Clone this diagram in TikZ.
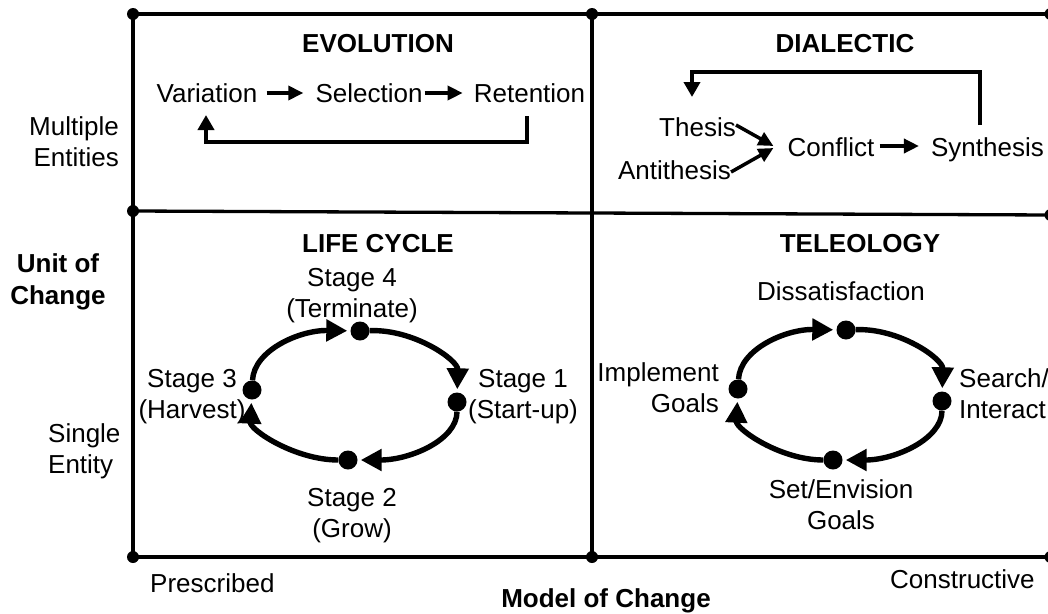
\documentclass[tikz,border=0pt]{standalone}
\usepackage{fontspec}
\setmainfont{Liberation Sans}
\usetikzlibrary{arrows.meta}
% stacked lines with the baseline of the first line as the box baseline
\newcommand\stacklines[3]{\begin{tabular}[t]{@{}#1@{}}#2\\#3\end{tabular}}
\begin{document}
\begin{tikzpicture}[x=1pt,y=-1pt,
  every node/.style={inner sep=0pt, font=\fontsize{26}{31}\selectfont},
  title/.style={font=\fontsize{26}{31}\selectfont\bfseries},
  grid/.style={line width=3.3pt},
  gdot/.style={circle, fill, minimum size=12pt, inner sep=0pt},
  cdot/.style={circle, fill, minimum size=19pt, inner sep=0pt},
  cyc/.style={line width=5.4pt, -{Triangle[length=21pt,width=21pt]}, shorten >=3pt},
  flow/.style={line width=3.5pt, -{Triangle[length=15pt,width=14pt]}},
  loop/.style={line width=4.3pt, -{Triangle[length=15pt,width=16pt]}}
]
\useasboundingbox (0,0) rectangle (1048,613);

% ---- frame and quadrants ----
\node[gdot] (tl) at (133,14) {};
\node[gdot] (tm) at (592,14) {};
\node[gdot] (tr) at (1050.5,14) {};
\node[gdot] (ml) at (133,211) {};
\node[gdot] (mr) at (1050.5,215) {};
\node[gdot] (bl) at (133,557) {};
\node[gdot] (bm) at (592,557) {};
\node[gdot] (br) at (1050.5,557) {};
\draw[grid] (tl.center) -- (tr.center) -- (br.center) -- (bl.center) -- cycle;
\draw[grid] (ml.center) -- (mr.center);
\draw[grid] (tm.center) -- (bm.center);

% ---- axis labels ----
\node[anchor=base east] (multi) at (119,135) {\stacklines{r}{Multiple}{Entities}};
\node[anchor=base, font=\fontsize{26}{32}\selectfont\bfseries] (unit) at (58,272) {\stacklines{c}{Unit of}{Change}};
\node[anchor=base west] (single) at (48,442) {\stacklines{l}{Single}{Entity}};
\node[anchor=base west] (presc) at (150,592) {Prescribed};
\node[anchor=base, title] (model) at (606,607) {Model of Change};
\node[anchor=base west] (constr) at (890,588) {Constructive};

% ---- evolution ----
\node[title, anchor=base] (evo) at (378,52) {EVOLUTION};
\node[anchor=base] (var) at (207,102) {Variation};
\node[anchor=base] (sel) at (369,102) {Selection};
\node[anchor=base] (ret) at (529.5,102) {Retention};
\draw[flow] ([xshift=9pt,yshift=9pt]var.base east) -- ([xshift=-12pt,yshift=9pt]sel.base west);
\draw[flow] ([xshift=2pt,yshift=9pt]sel.base east) -- ([xshift=-11pt,yshift=9pt]ret.base west);
\draw[loop] ([xshift=-2.5pt,yshift=-14pt]ret.base) -- ++(0,26) -| ([xshift=-1pt,yshift=-13pt]var.base);

% ---- dialectic ----
\node[title, anchor=base] (dia) at (845,52) {DIALECTIC};
\node[anchor=base] (thes) at (697.5,136) {Thesis};
\node[anchor=base] (anti) at (674.5,179) {Antithesis};
\node[anchor=base] (conf) at (831,156) {Conflict};
\node[anchor=base] (syn) at (987.5,156) {Synthesis};
\draw[flow] ([yshift=11pt]thes.base east) -- ([xshift=-14pt,yshift=10pt]conf.base west);
\draw[flow] ([yshift=7pt]anti.base east) -- ([xshift=-14pt,yshift=8pt]conf.base west);
\draw[flow] ([xshift=5pt,yshift=10pt]conf.base east) -- ([xshift=-12pt,yshift=10pt]syn.base west);
\draw[loop] ([xshift=-7.5pt,yshift=31pt]syn.base) -- ++(0,-53) -| ([xshift=-5.5pt,yshift=39pt]thes.base);

% ---- life cycle ----
\node[title, anchor=base] (lc) at (378,252) {LIFE CYCLE};
\node[cdot] (l4) at (360,331) {};
\node[cdot] (l1) at (457,402) {};
\node[cdot] (l2) at (348,460) {};
\node[cdot] (l3) at (252,390) {};
\draw[cyc] (l4) .. controls (414,329) and (458,360) .. (l1);
\draw[cyc] (l1) .. controls (457,440) and (410,460) .. (l2);
\draw[cyc] (l2) .. controls (295,460) and (250,430) .. (l3);
\draw[cyc] (l3) .. controls (254,350) and (300,330) .. (l4);
\node[anchor=base] (s4) at (352,286) {\stacklines{c}{Stage 4}{(Terminate)}};
\node[anchor=base] (s1) at (523,387) {\stacklines{c}{Stage 1}{(Start-up)}};
\node[anchor=base] (s2) at (352,506) {\stacklines{c}{Stage 2}{(Grow)}};
\node[anchor=base] (s3) at (192,387) {\stacklines{c}{Stage 3}{(Harvest)}};

% ---- teleology ----
\node[title, anchor=base] (tel) at (860,252) {TELEOLOGY};
\node[cdot] (t0) at (846,330) {};
\node[cdot] (t1) at (942,401) {};
\node[cdot] (t2) at (833,460) {};
\node[cdot] (t3) at (738,389) {};
\draw[cyc] (t0) .. controls (900,328) and (943,359) .. (t1);
\draw[cyc] (t1) .. controls (942,439) and (895,460) .. (t2);
\draw[cyc] (t2) .. controls (780,460) and (736,429) .. (t3);
\draw[cyc] (t3) .. controls (740,349) and (786,329) .. (t0);
\node[anchor=base] (dis) at (841,300) {Dissatisfaction};
\node[anchor=base west] (srch) at (959,387) {\stacklines{l}{Search/}{Interact}};
\node[anchor=base] (setg) at (841,498) {\stacklines{c}{Set/Envision}{Goals}};
\node[anchor=base east] (impl) at (719,381) {\stacklines{r}{Implement}{Goals}};
\end{tikzpicture}
\end{document}
